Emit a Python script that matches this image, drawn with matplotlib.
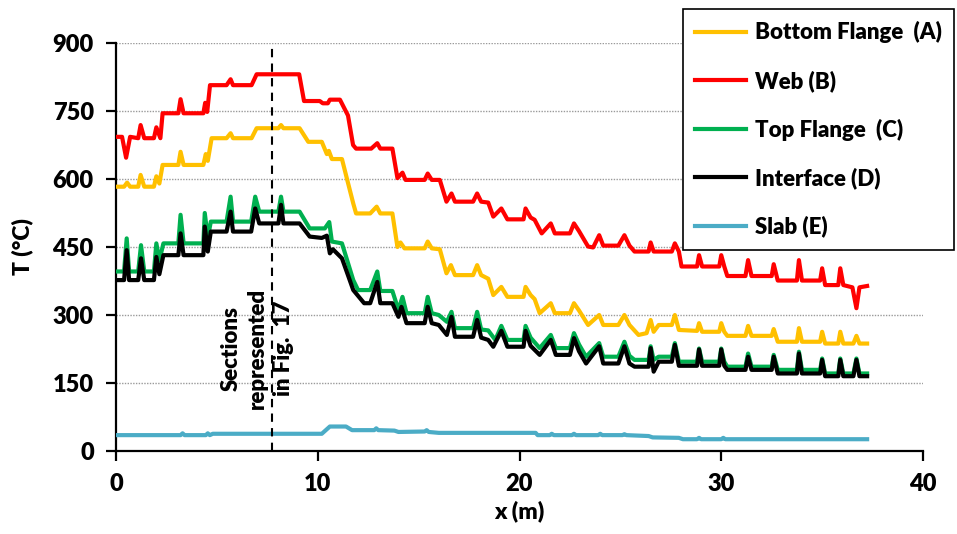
import matplotlib
matplotlib.use("Agg")
import matplotlib.pyplot as plt

plt.rcParams['font.family'] = ['Lato', 'DejaVu Sans']
plt.rcParams['font.weight'] = 'heavy'

# (x [m], T [C])
bottom_flange = [(0, 583), (0.4, 583), (0.55, 592), (0.7, 583), (1.1, 583), (1.22, 609), (1.4, 583),
                 (1.88, 583), (2.0, 606), (2.15, 590), (2.31, 631), (3.09, 631), (3.2, 660), (3.35, 631),
                 (4.33, 631), (4.45, 655), (4.55, 640), (4.74, 690), (5.48, 690), (5.68, 701), (5.8, 690),
                 (6.72, 690), (6.97, 712), (8.05, 712), (8.18, 719), (8.3, 712), (9.1, 712), (9.53, 682),
                 (10.2, 682), (10.45, 655), (10.55, 662), (10.7, 644), (11.2, 644), (11.45, 600),
                 (11.76, 546), (11.9, 524), (12.6, 524), (12.92, 539), (13.1, 524), (13.7, 524),
                 (13.95, 450), (14.1, 460), (14.3, 447), (15.3, 447), (15.45, 462), (15.65, 447),
                 (16.05, 445), (16.38, 392), (16.6, 410), (16.8, 388), (17.7, 388), (17.9, 410),
                 (18.1, 388), (18.45, 380), (18.7, 344), (19.1, 362), (19.4, 340), (20.2, 340),
                 (20.3, 362), (20.55, 344), (20.75, 335), (21.0, 304), (21.55, 326), (21.75, 304),
                 (22.5, 304), (22.7, 326), (22.95, 310), (23.4, 278), (23.95, 300), (24.15, 278),
                 (24.9, 278), (25.2, 300), (25.45, 278), (25.9, 256), (26.3, 260), (26.5, 289),
                 (26.65, 263), (26.9, 278), (27.55, 278), (27.7, 300), (27.9, 267), (28.8, 265),
                 (28.9, 282), (29.05, 263), (29.9, 263), (30.0, 282), (30.15, 263), (30.3, 254),
                 (31.2, 254), (31.33, 276), (31.5, 254), (32.5, 254), (32.6, 269), (32.8, 241),
                 (33.75, 241), (33.85, 271), (34.0, 241), (34.9, 241), (35.0, 263), (35.15, 237),
                 (35.8, 237), (35.9, 263), (36.05, 237), (36.55, 237), (36.7, 254), (36.85, 237),
                 (37.23, 237)]

web = [(0, 693), (0.3, 693), (0.5, 647), (0.7, 693), (1.1, 690), (1.22, 719), (1.4, 690), (1.88, 690),
       (2.0, 714), (2.2, 690), (2.31, 745), (3.09, 745), (3.2, 776), (3.35, 745), (4.33, 745),
       (4.42, 768), (4.52, 748), (4.66, 807), (5.48, 807), (5.68, 820), (5.8, 807), (6.72, 807),
       (6.97, 831), (9.08, 831), (9.32, 772), (10.1, 772), (10.25, 767), (10.5, 767), (10.6, 775),
       (11.1, 775), (11.5, 740), (11.75, 675), (11.9, 667), (12.65, 667), (12.95, 679), (13.1, 667),
       (13.7, 667), (13.95, 602), (14.2, 614), (14.35, 598), (15.3, 598), (15.45, 612), (15.65, 598),
       (16.05, 598), (16.38, 550), (16.63, 568), (16.8, 550), (17.7, 550), (17.9, 568), (18.1, 550),
       (18.45, 548), (18.7, 517), (19.1, 535), (19.4, 511), (20.2, 511), (20.3, 535), (20.55, 515),
       (20.75, 510), (21.1, 480), (21.55, 502), (21.75, 480), (22.5, 480), (22.7, 502), (22.95, 485),
       (23.4, 451), (23.65, 449), (23.95, 476), (24.15, 453), (24.9, 453), (25.2, 476), (25.45, 453),
       (25.7, 440), (26.4, 440), (26.5, 460), (26.65, 440), (27.55, 440), (27.7, 458), (27.9, 440),
       (28.03, 407), (28.8, 407), (28.9, 432), (29.05, 407), (29.9, 407), (30.0, 432), (30.15, 407),
       (30.3, 386), (31.2, 386), (31.33, 421), (31.5, 386), (32.5, 386), (32.6, 412), (32.8, 376),
       (33.75, 376), (33.85, 421), (34.0, 376), (34.9, 376), (35.0, 403), (35.15, 366), (35.8, 366),
       (35.9, 403), (36.05, 366), (36.5, 361), (36.7, 315), (36.85, 361), (37.23, 364)]

top_flange = [(0, 396), (0.4, 396), (0.53, 469), (0.65, 396), (1.1, 396), (1.24, 454), (1.4, 396),
              (1.88, 396), (2.0, 458), (2.15, 420), (2.35, 458), (3.09, 458), (3.2, 521), (3.35, 458),
              (4.33, 458), (4.4, 525), (4.55, 470), (4.7, 506), (5.48, 506), (5.68, 561), (5.8, 506),
              (6.7, 506), (6.9, 561), (7.1, 528), (8.05, 528), (8.18, 561), (8.3, 528), (9.1, 528),
              (9.6, 491), (10.35, 491), (10.57, 505), (10.7, 462), (11.2, 458), (11.76, 377),
              (12.0, 355), (12.6, 355), (12.95, 396), (13.1, 353), (13.7, 353), (14.0, 311),
              (14.2, 340), (14.4, 304), (15.3, 304), (15.45, 340), (15.65, 304), (16.0, 300),
              (16.4, 285), (16.63, 307), (16.8, 271), (17.7, 271), (17.9, 307), (18.1, 268),
              (18.45, 266), (18.8, 245), (19.1, 276), (19.4, 245), (20.2, 245), (20.3, 276),
              (20.55, 250), (21.0, 227), (21.55, 256), (21.8, 227), (22.5, 227), (22.7, 260),
              (22.95, 235), (23.3, 208), (23.95, 238), (24.15, 208), (24.9, 208), (25.2, 241),
              (25.45, 210), (25.7, 201), (26.4, 201), (26.5, 231), (26.65, 201), (26.9, 208),
              (27.55, 208), (27.7, 238), (27.9, 197), (28.8, 197), (28.9, 226), (29.05, 197),
              (29.9, 197), (30.0, 226), (30.15, 197), (30.3, 186), (31.2, 186), (31.33, 215),
              (31.5, 186), (32.5, 186), (32.6, 212), (32.8, 179), (33.75, 179), (33.85, 219),
              (34.0, 179), (34.9, 179), (35.0, 204), (35.15, 171), (35.8, 171), (35.9, 204),
              (36.05, 171), (36.55, 171), (36.7, 204), (36.85, 171), (37.23, 171)]

interface = [(0, 377), (0.4, 377), (0.53, 443), (0.65, 377), (1.1, 377), (1.24, 425), (1.4, 377),
             (1.88, 377), (2.0, 428), (2.15, 390), (2.35, 432), (3.09, 432), (3.2, 480), (3.35, 432),
             (4.33, 432), (4.4, 495), (4.55, 440), (4.7, 484), (5.48, 484), (5.68, 528), (5.8, 484),
             (6.7, 484), (6.9, 535), (7.1, 502), (8.05, 502), (8.18, 543), (8.3, 502), (9.1, 502),
             (9.6, 473), (10.2, 470), (10.45, 475), (10.6, 436), (10.75, 445), (11.2, 425),
             (11.76, 355), (12.3, 326), (12.6, 326), (12.95, 373), (13.1, 326), (13.7, 326),
             (14.0, 296), (14.15, 318), (14.4, 282), (15.3, 282), (15.45, 318), (15.65, 282),
             (16.0, 278), (16.4, 256), (16.63, 296), (16.8, 252), (17.7, 252), (17.9, 289),
             (18.1, 250), (18.45, 245), (18.7, 230), (19.1, 265), (19.4, 230), (20.2, 230),
             (20.3, 265), (20.55, 232), (21.0, 212), (21.55, 245), (21.8, 212), (22.5, 212),
             (22.7, 249), (22.95, 220), (23.3, 193), (23.95, 231), (24.15, 193), (24.9, 193),
             (25.2, 231), (25.45, 193), (25.7, 186), (26.4, 186), (26.5, 227), (26.65, 175),
             (26.9, 197), (27.55, 197), (27.7, 234), (27.9, 188), (28.8, 188), (28.9, 224),
             (29.05, 188), (29.9, 188), (30.0, 224), (30.15, 188), (30.3, 179), (31.2, 179),
             (31.33, 208), (31.5, 179), (32.5, 179), (32.6, 208), (32.8, 171), (33.75, 171),
             (33.85, 215), (34.0, 171), (34.9, 171), (35.0, 201), (35.15, 165), (35.8, 165),
             (35.9, 201), (36.05, 165), (36.55, 165), (36.7, 201), (36.85, 165), (37.23, 165)]

slab = [(0, 35), (3.2, 35), (3.3, 39), (3.4, 35), (4.45, 35), (4.55, 39), (4.65, 35), (4.8, 38),
        (10.2, 38), (10.6, 54), (11.4, 54), (11.7, 46), (12.8, 46), (12.9, 50), (13.0, 46),
        (13.8, 45), (14.0, 42), (15.3, 43), (15.4, 46), (15.5, 42), (16.0, 40), (20.8, 40),
        (20.9, 35), (21.5, 35), (21.6, 38), (21.7, 35), (22.6, 35), (22.7, 38), (22.8, 35),
        (23.9, 35), (24.0, 38), (24.1, 35), (25.1, 35), (25.2, 37), (25.3, 35), (26.4, 33),
        (26.6, 30), (27.9, 29), (28.1, 26), (28.8, 26), (28.9, 29), (29.0, 26), (30.0, 26),
        (30.1, 29), (30.2, 26), (37.23, 26)]

series = [("Bottom Flange  (A)", bottom_flange, "#FFC000"),
          ("Web (B)", web, "#FF0000"),
          ("Top Flange  (C)", top_flange, "#00B050"),
          ("Interface (D)", interface, "#000000"),
          ("Slab (E)", slab, "#4BACC6")]

section_x = 7.73

fig = plt.figure(figsize=(9.57, 5.34), dpi=100)
ax = fig.add_axes([116 / 957, 1 - 451 / 534, (923 - 116) / 957, (451 - 43) / 534])

for label, pts, col in series:
    xs, ts = zip(*pts)
    ax.plot(xs, ts, color=col, lw=3.0, label=label, solid_joinstyle='round', zorder=3)

ax.axvline(section_x, color='black', ls=(0, (4, 3)), lw=1.5, zorder=4)
ax.text(section_x - 0.7, 227, "Sections\nrepresented\nin Fig.  17", rotation=90,
        ha='center', va='center', multialignment='center', fontsize=16,
        fontweight='heavy', linespacing=1.3, zorder=5)

ax.set_xlim(0, 40)
ax.set_ylim(0, 900)
ax.set_xticks([0, 10, 20, 30, 40])
ax.set_yticks([0, 150, 300, 450, 600, 750, 900])
ax.yaxis.grid(True, color='#9a9a9a', ls=(0, (1, 1)), lw=1.0)
ax.set_axisbelow(True)
for s in ['top', 'right']:
    ax.spines[s].set_visible(False)
for s in ['left', 'bottom']:
    ax.spines[s].set_linewidth(1.6)
ax.tick_params(direction='out', length=7, width=1.6, labelsize=17, pad=9)
for lab in ax.get_xticklabels() + ax.get_yticklabels():
    lab.set_fontweight('heavy')

ax.set_xlabel("x (m)", fontsize=16.5, fontweight='heavy', labelpad=4)
ax.set_ylabel("T (°C)", fontsize=16.5, fontweight='heavy', labelpad=14)

h, l = ax.get_legend_handles_labels()
leg = fig.legend(h, l, loc='upper left', bbox_to_anchor=(683 / 957, 1 - 9 / 534),
                 fontsize=16, frameon=True, fancybox=False, framealpha=1,
                 edgecolor='black', handlelength=2.3, handletextpad=0.4,
                 labelspacing=1.2, borderpad=0.55, borderaxespad=0)
leg.get_frame().set_linewidth(1.2)
for t in leg.get_texts():
    t.set_fontweight('heavy')

fig.savefig("out.png", dpi=100)
